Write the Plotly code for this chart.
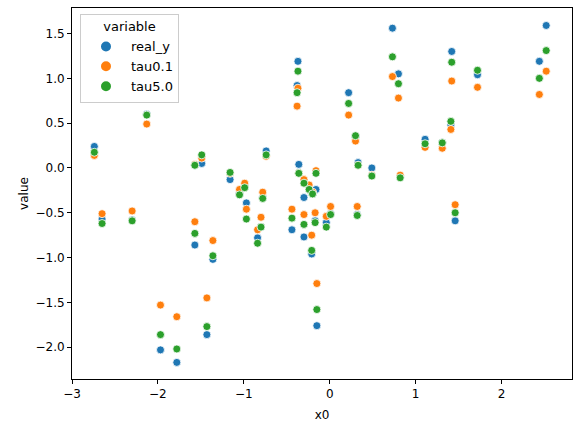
import plotly.graph_objects as go

x0 = [-2.74, -2.65, -2.30, -2.13, -1.97, -1.78, -1.57, -1.57, -1.49, -1.43,
      -1.36, -1.16, -1.05, -0.99, -0.97, -0.74, -0.78, -0.80, -0.84, -0.37,
      -0.38, -0.36, -0.30, -0.44, -0.30, -0.17, -0.04, 0.01, -0.21, -0.15,
      -0.16, -0.24, -0.20, 0.22, 0.30, 0.32, 0.33, 0.49, 0.73, 0.80,
      0.82, 1.11, 1.31, 1.41, 1.42, 1.46, 1.72, 2.44, 2.52]
real_y = [0.24, -0.57, -0.58, 0.60, -2.03, -2.17, -0.86, 0.03, 0.05, -1.86,
          -1.02, -0.13, -0.29, -0.21, -0.39, 0.19, -0.33, -0.66, -0.78, 1.19,
          0.92, 0.04, -0.33, -0.69, -0.77, -0.59, -0.61, -0.51, -0.96, -1.76,
          -0.24, -0.24, -0.29, 0.84, 0.35, -0.52, 0.06, 0.00, 1.56, 1.05,
          -0.10, 0.32, 0.28, 0.48, 1.30, -0.59, 1.04, 1.19, 1.59]
tau01 = [0.14, -0.51, -0.48, 0.49, -1.53, -1.66, -0.60, 0.04, 0.11, -1.45,
         -0.81, -0.06, -0.24, -0.17, -0.46, 0.13, -0.27, -0.55, -0.69, 0.89,
         0.69, -0.06, -0.13, -0.46, -0.52, -0.50, -0.54, -0.43, -0.75, -1.29,
         -0.03, -0.19, -0.27, 0.59, 0.30, -0.43, 0.03, -0.08, 1.02, 0.78,
         -0.08, 0.23, 0.22, 0.43, 0.97, -0.41, 0.90, 0.82, 1.08]
tau50 = [0.175, -0.62, -0.59, 0.59, -1.86, -2.02, -0.73, 0.03, 0.146, -1.77,
         -0.98, -0.05, -0.30, -0.22, -0.57, 0.146, -0.34, -0.66, -0.84, 1.08,
         0.84, -0.06, -0.17, -0.56, -0.63, -0.61, -0.66, -0.52, -0.92, -1.58,
         -0.06, -0.24, -0.29, 0.72, 0.36, -0.53, 0.03, -0.09, 1.24, 0.94,
         -0.11, 0.27, 0.28, 0.52, 1.18, -0.50, 1.09, 1.00, 1.31]

series = [("real_y", real_y, "#1f77b4"), ("tau0.1", tau01, "#ff7f0e"), ("tau5.0", tau50, "#2ca02c")]

fig = go.Figure()
for name, ys, col in series:
    fig.add_trace(go.Scatter(
        x=x0, y=ys, mode="markers", name=name,
        marker=dict(color=col, size=8, line=dict(color="white", width=0.8)),
    ))

axis_common = dict(
    showline=True, linecolor="black", linewidth=1, mirror=True,
    showgrid=False, zeroline=False, ticks="outside", ticklen=4,
    tickcolor="black", tickfont=dict(size=12, color="black"),
)
fig.update_xaxes(range=[-3.0, 2.82], tickvals=[-3, -2, -1, 0, 1, 2],
                 title=dict(text="x0", font=dict(size=12, color="black"), standoff=10),
                 **axis_common)
fig.update_yaxes(range=[-2.355, 1.785],
                 tickvals=[-2.0, -1.5, -1.0, -0.5, 0.0, 0.5, 1.0, 1.5],
                 ticktext=["−2.0", "−1.5", "−1.0", "−0.5", "0.0", "0.5", "1.0", "1.5"],
                 title=dict(text="value", font=dict(size=12, color="black"), standoff=4),
                 **axis_common)

fig.update_layout(
    width=578, height=432,
    margin=dict(l=72, r=6, t=8, b=53),
    plot_bgcolor="white", paper_bgcolor="white",
    font=dict(family="DejaVu Sans", size=12, color="black"),
    legend=dict(
        x=0.016, y=0.985, xanchor="left", yanchor="top",
        title=dict(text="variable", side="top center", font=dict(size=13)),
        bgcolor="rgba(255,255,255,0.8)", bordercolor="#cccccc", borderwidth=1,
        font=dict(size=13), itemsizing="constant", itemwidth=40,
    ),
)

fig.write_html("out.html")
